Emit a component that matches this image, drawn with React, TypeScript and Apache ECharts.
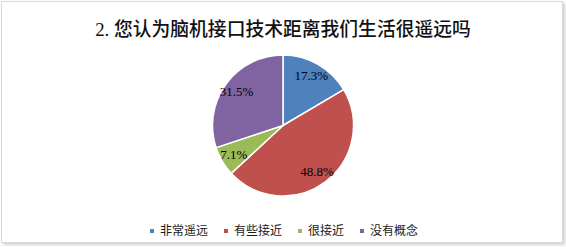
import React, { useEffect, useRef } from "react";
import * as echarts from "echarts";

const titleText = "2. 您认为脑机接口技术距离我们生活很遥远吗";
const categories = ["非常遥远", "有些接近", "很接近", "没有概念"];
const values = [17.3, 48.8, 7.1, 31.5];
const colors = ["#4F81BD", "#C0504D", "#9BBB59", "#8064A2"];

const serif = "'Liberation Serif', 'Times New Roman', 'Noto Sans CJK SC', serif";

export default function App() {
  const ref = useRef<HTMLDivElement>(null);
  useEffect(() => {
    if (!ref.current) return;
    const chart = echarts.init(ref.current, undefined, { renderer: "svg" });
    const data = categories.map((name, i) => ({ name, value: values[i] }));
    chart.setOption({
      animation: false,
      backgroundColor: "#ffffff",
      color: colors,
      graphic: [
        {
          type: "rect",
          z: -10,
          shape: { x: 1.5, y: 1.5, width: 561, height: 241 },
          style: {
            fill: "#ffffff",
            stroke: "#d9d9d9",
            lineWidth: 1,
            shadowBlur: 3,
            shadowOffsetX: 2,
            shadowOffsetY: 2,
            shadowColor: "rgba(0,0,0,0.18)",
          },
        },
      ],
      title: {
        text: titleText,
        left: "center",
        top: 15,
        textStyle: {
          fontFamily: serif,
          fontSize: 18.8,
          fontWeight: 500,
          color: "#111111",
        },
      },
      legend: {
        data: categories,
        top: 220,
        left: "center",
        icon: "rect",
        itemWidth: 6,
        itemHeight: 6,
        itemGap: 14,
        textStyle: { fontFamily: serif, fontSize: 12, color: "#1a1a1a" },
      },
      series: [
        {
          type: "pie",
          center: [283, 125.5],
          radius: [0, 70.5],
          startAngle: 90,
          clockwise: true,
          data,
          label: { show: false },
          labelLine: { show: false },
          itemStyle: { borderColor: "#ffffff", borderWidth: 1.5 },
          emphasis: { disabled: true },
        },
        {
          type: "pie",
          center: [283, 125.5],
          radius: [38, 70.5],
          startAngle: 90,
          clockwise: true,
          silent: true,
          data,
          itemStyle: { color: "rgba(0,0,0,0)" },
          label: {
            show: true,
            position: "inside",
            formatter: (p: any) => p.value.toFixed(1) + "%",
            fontFamily: serif,
            fontSize: 13,
            color: "#000000",
          },
          labelLine: { show: false },
          emphasis: { disabled: true },
        },
      ],
    });
    return () => chart.dispose();
  }, []);
  return (
    <div
      ref={ref}
      style={{ position: "fixed", left: 0, top: 0, width: 566, height: 247 }}
    />
  );
}
